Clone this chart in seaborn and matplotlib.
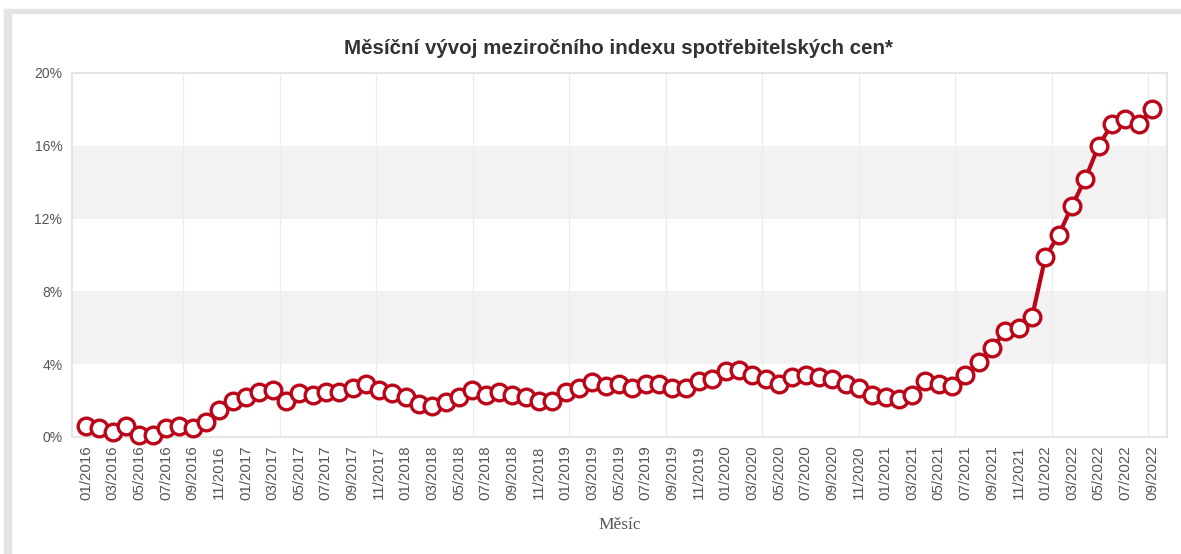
import matplotlib
matplotlib.use("Agg")
import matplotlib.pyplot as plt
import matplotlib.patches as mpatches
import seaborn as sns
import pandas as pd
import numpy as np

# ---- data ----
years = [2016, 2017, 2018, 2019, 2020, 2021, 2022]
months = [f"{m:02d}/{y}" for y in years for m in range(1, 13)][:81]
cpi = [
    0.6, 0.5, 0.3, 0.6, 0.1, 0.1, 0.5, 0.6, 0.5, 0.8, 1.5, 2.0,   # 2016
    2.2, 2.5, 2.6, 2.0, 2.4, 2.3, 2.5, 2.5, 2.7, 2.9, 2.6, 2.4,   # 2017
    2.2, 1.8, 1.7, 1.9, 2.2, 2.6, 2.3, 2.5, 2.3, 2.2, 2.0, 2.0,   # 2018
    2.5, 2.7, 3.0, 2.8, 2.9, 2.7, 2.9, 2.9, 2.7, 2.7, 3.1, 3.2,   # 2019
    3.6, 3.7, 3.4, 3.2, 2.9, 3.3, 3.4, 3.3, 3.2, 2.9, 2.7, 2.3,   # 2020
    2.2, 2.1, 2.3, 3.1, 2.9, 2.8, 3.4, 4.1, 4.9, 5.8, 6.0, 6.6,   # 2021
    9.9, 11.1, 12.7, 14.2, 16.0, 17.2, 17.5, 17.2, 18.0,          # 2022
]
y_ticks = [0, 4, 8, 12, 16, 20]
title = "Měsíční vývoj meziročního indexu spotřebitelských cen*"
x_label = "Měsíc"

df = pd.DataFrame({"idx": np.arange(len(months)), "month": months, "cpi": cpi})

sns.set_theme(style="white")
plt.rcParams["font.family"] = ["Liberation Sans", "DejaVu Sans"]

W, H = 1181, 554
fig = plt.figure(figsize=(W / 100, H / 100), dpi=100)
fig.patch.set_facecolor("white")

# outer frame (screenshot border)
frame_col = "#e4e4e4"
fig.patches.append(mpatches.Rectangle((4 / W, 1 - 13 / H), 1 - 4 / W, 4 / H,
                                      transform=fig.transFigure, color=frame_col, zorder=0))
fig.patches.append(mpatches.Rectangle((4 / W, 0), 7 / W, 1 - 9 / H,
                                      transform=fig.transFigure, color=frame_col, zorder=0))

L, R, T, B = 72, 1167, 73, 437
ax = fig.add_axes([L / W, 1 - B / H, (R - L) / W, (B - T) / H])
ax.set_facecolor("white")

# alternating bands
for lo in (4, 12):
    ax.axhspan(lo, lo + 4, color="#f2f2f2", zorder=0, lw=0)

# vertical grid lines
px_per = (1152 - 86) / 80.0
for k in range(11):
    gx = (183 - 86) / px_per + k * 96.5 / px_per
    ax.axvline(gx, color="#ececec", lw=0.9, zorder=0.5)

red = "#bb0519"
sns.lineplot(data=df, x="idx", y="cpi", ax=ax, color=red, linewidth=3.0,
             marker="o", markersize=12, markerfacecolor="white",
             markeredgecolor=red, markeredgewidth=2.4, zorder=3, clip_on=False)

ax.set_xlim((L - 86) / px_per, 80 + (R - 1152) / px_per)
ax.set_ylim(0, 20)
ax.set_yticks(y_ticks)
ax.set_yticklabels([f"{v}%" for v in y_ticks], color="#555555", fontsize=10)
ax.set_xticks(df["idx"][::2])
ax.set_xticklabels(df["month"][::2], rotation=90, color="#555555", fontsize=10.8)
ax.tick_params(axis="both", length=0, pad=6)
ax.tick_params(axis="y", pad=7)

for s in ax.spines.values():
    s.set_color("#e0e0e0")
    s.set_linewidth(1.2)

ax.set_xlabel(x_label, family=["Liberation Serif", "DejaVu Serif"], fontsize=12.5,
              color="#555555", labelpad=12)
ax.set_ylabel("")
fig.text(618 / W, 1 - 48 / H, title, ha="center", va="center", fontsize=14.8,
         fontweight="bold", color="#333333")

fig.savefig("out.png", dpi=100, facecolor="white")
